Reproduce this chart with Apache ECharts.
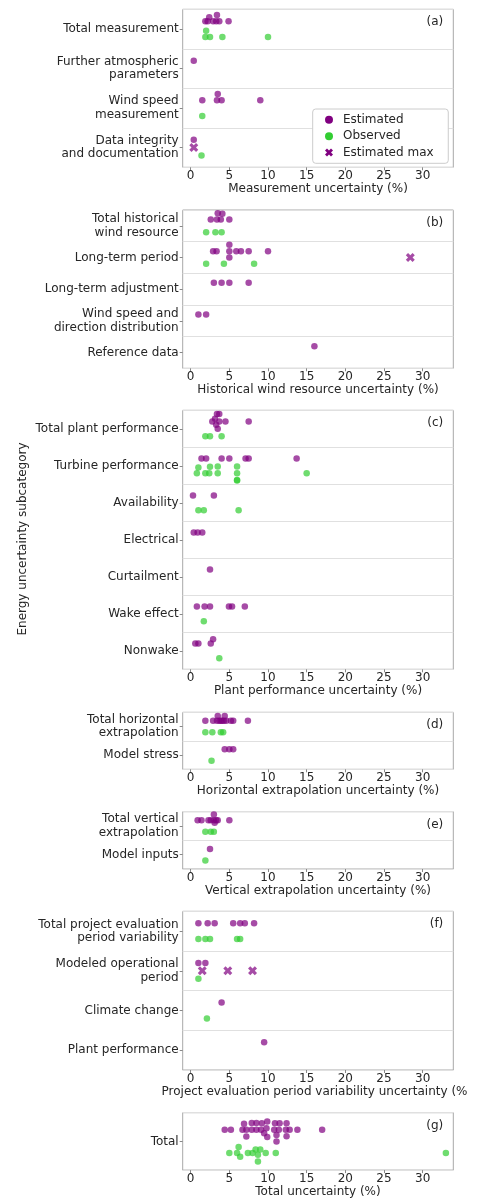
<!DOCTYPE html>
<html>
<head>
<meta charset="utf-8">
<script src="https://cdn.jsdelivr.net/npm/echarts@6/dist/echarts.min.js"></script>
<style>
  html, body { margin: 0; padding: 0; background: #ffffff; }
  #chart { width: 481px; height: 1199px; }
</style>
</head>
<body>
<div id="chart"></div>
<script>
// ---------------- data ----------------
const xTicks = [0, 5, 10, 15, 20, 25, 30];

// (a) measurement
const measCats = ['Total measurement', 'Further atmospheric\nparameters', 'Wind speed\nmeasurement', 'Data integrity\nand documentation'];
const measEstimated = [[1.9, 2.2, 2.4, 2.9, 3.3, 3.4, 3.7, 4.9], [0.4], [1.5, 3.4, 3.5, 4.0, 9.0], [0.4]];
const measObserved = [[1.9, 2.0, 2.5, 4.1, 10.0], [], [1.5], [1.4]];
const measEstMax = [[], [], [], [0.4]];

// (b) historical wind resource
const histCats = ['Total historical\nwind resource', 'Long-term period', 'Long-term adjustment', 'Wind speed and\ndirection distribution', 'Reference data'];
const histEstimated = [[2.6, 3.4, 3.5, 3.9, 4.1, 5.0], [2.9, 3.35, 5.0, 5.0, 5.0, 5.9, 6.5, 7.5, 10.0], [3.0, 4.0, 5.0, 7.5], [1.0, 2.0], [16.0]];
const histObserved = [[2.0, 3.2, 4.0], [2.0, 4.3, 8.2], [], [], []];
const histEstMax = [[], [28.4], [], [], []];

// (c) plant performance
const plantCats = ['Total plant performance', 'Turbine performance', 'Availability', 'Electrical', 'Curtailment', 'Wake effect', 'Nonwake'];
const plantEstimated = [
  [2.8, 3.15, 3.3, 3.4, 3.5, 3.7, 3.7, 4.5, 7.5],
  [1.4, 2.0, 4.0, 5.0, 7.1, 7.5, 13.7],
  [0.3, 3.0],
  [0.4, 0.9, 1.5],
  [2.5],
  [0.8, 1.8, 2.5, 4.95, 5.35, 7.0],
  [0.6, 1.0, 2.6, 2.9]
];
const plantObserved = [
  [1.9, 2.5, 4.0],
  [0.8, 1.0, 1.9, 2.4, 2.5, 3.5, 3.5, 6.0, 6.0, 6.0, 6.0, 15.0],
  [1.0, 1.7, 6.2],
  [],
  [],
  [1.7],
  [3.7]
];
const plantEstMax = [[], [], [], [], [], [], []];

// (d) horizontal extrapolation
const horizCats = ['Total horizontal\nextrapolation', 'Model stress'];
const horizEstimated = [[1.9, 2.9, 3.4, 3.5, 3.7, 3.9, 4.1, 4.3, 4.4, 4.6, 5.2, 5.5, 7.4], [4.4, 5.0, 5.5]];
const horizObserved = [[1.9, 2.8, 3.9, 4.2], [2.7]];
const horizEstMax = [[], []];

// (e) vertical extrapolation
const vertCats = ['Total vertical\nextrapolation', 'Model inputs'];
const vertEstimated = [[0.9, 1.4, 2.3, 2.6, 3.0, 3.0, 3.1, 3.3, 3.5, 5.0], [2.5]];
const vertObserved = [[1.9, 2.6, 3.0], [1.9]];
const vertEstMax = [[], []];

// (f) project evaluation period variability
const evalCats = ['Total project evaluation\nperiod variability', 'Modeled operational\nperiod', 'Climate change', 'Plant performance'];
const evalEstimated = [[1.0, 2.2, 3.1, 5.5, 6.4, 7.0, 8.2], [1.0, 1.9], [4.0], [9.5]];
const evalObserved = [[1.0, 1.9, 2.5, 6.0, 6.4], [1.0], [2.1], []];
const evalEstMax = [[], [1.5, 4.8, 8.0], [], []];

// (g) total
const totalCats = ['Total'];
const totalEstimated = [[4.4, 5.2, 6.7, 6.9, 7.2, 7.2, 7.9, 7.9, 8.5, 8.5, 9.1, 9.2, 9.5, 9.8, 9.9, 9.9,
  10.8, 10.9, 11.1, 11.1, 11.4, 11.5, 12.3, 12.4, 12.4, 12.8, 13.8, 17.0]];
const totalObserved = [[5.0, 6.0, 6.2, 6.4, 7.4, 8.0, 8.4, 8.7, 8.7, 9.0, 9.7, 11.0, 33.0]];
const totalEstMax = [[]];

// ---------------- layout & style ----------------
const PLOT_LEFT = 182.7;
const PLOT_WIDTH = 270.6;
const X_MIN = -1.03;
const X_MAX = 33.96;
const DOT = 6.5;          // drawn marker diameter (px)
const SWARM_D = 6.4;      // collision diameter used for the swarm layout (px)
const TEXT = '#262626';
const FONT = 'DejaVu Sans';
const EST_COLOR = '#800080';
const OBS_COLOR = '#32cd32';
const X_PATH = 'path://M1 0L2 1L3 0L4 1L3 2L4 3L3 4L2 3L1 4L0 3L1 2L0 1Z';

// swarmSpan: width (in data units) of the value range the swarm is packed over
const panels = [
  { tag: '(a)', cats: measCats, est: measEstimated, obs: measObserved, max: measEstMax, title: 'Measurement uncertainty (%)', top: 9.3, height: 158 },
  { tag: '(b)', cats: histCats, est: histEstimated, obs: histObserved, max: histEstMax, title: 'Historical wind resource uncertainty (%)', top: 210, height: 158.3 },
  { tag: '(c)', cats: plantCats, est: plantEstimated, obs: plantObserved, max: plantEstMax, title: 'Plant performance uncertainty (%)', top: 410.3, height: 259 },
  { tag: '(d)', cats: horizCats, est: horizEstimated, obs: horizObserved, max: horizEstMax, title: 'Horizontal extrapolation uncertainty (%)', top: 712.3, height: 57 },
  { tag: '(e)', cats: vertCats, est: vertEstimated, obs: vertObserved, max: vertEstMax, title: 'Vertical extrapolation uncertainty (%)', top: 811.7, height: 57.3 },
  { tag: '(f)', cats: evalCats, est: evalEstimated, obs: evalObserved, max: evalEstMax, title: 'Project evaluation period variability uncertainty (%)', top: 911.3, height: 158.7, clipTitle: 307.5, titleShift: -3.5 },
  { tag: '(g)', cats: totalCats, est: totalEstimated, obs: totalObserved, max: totalEstMax, title: 'Total uncertainty (%)', top: 1112.7, height: 58.3, swarmSpan: 20 }
];

// Beeswarm placement (sorted sweep, closest-to-centre candidate first).
// Returns vertical pixel offsets (negative = upwards) in the input order.
function swarmOffsets(values, sx, d, halfWidth) {
  const order = values.map((v, i) => i).sort((a, b) => values[a] - values[b]);
  const placed = [];
  order.forEach(i => {
    const y = values[i] * sx;
    const neighbors = [];
    for (let k = placed.length - 1; k >= 0; k--) {
      if (y - placed[k].y < d) neighbors.push(placed[k]); else break;
    }
    const cands = [0];
    let leftFirst = true;
    neighbors.forEach(n => {
      const dy = y - n.y;
      const dx = Math.sqrt(Math.max(d * d - dy * dy, 0)) * 1.05;
      const cl = n.x - dx, cr = n.x + dx;
      if (leftFirst) cands.push(cl, cr); else cands.push(cr, cl);
      leftFirst = !leftFirst;
    });
    const idx = cands.map((c, j) => j).sort((a, b) => (Math.abs(cands[a]) - Math.abs(cands[b])) || (a - b));
    let chosen = 0;
    for (const j of idx) {
      const c = cands[j];
      if (neighbors.every(n => (n.x - c) * (n.x - c) + (n.y - y) * (n.y - y) >= d * d - 1e-6)) { chosen = c; break; }
    }
    placed.push({ x: chosen, y: y, i: i });
  });
  const out = new Array(values.length);
  placed.forEach(p => { out[p.i] = Math.max(-halfWidth, Math.min(halfWidth, p.x)); });
  return out;
}

function buildItems(groups, band, dodge, sx) {
  const items = [];
  groups.forEach((vals, ci) => {
    if (!vals.length) return;
    const offs = swarmOffsets(vals, sx, SWARM_D, 0.2 * band);
    vals.forEach((v, k) => {
      items.push({ value: [v, ci], symbolOffset: [0, dodge + offs[k]] });
    });
  });
  return items;
}

const grid = [], xAxis = [], yAxis = [], series = [], graphic = [];

panels.forEach((p, i) => {
  const band = p.height / p.cats.length;
  const all = [].concat(...p.est, ...p.obs);
  const span = p.swarmSpan || 1.1 * (Math.max(...all) - Math.min(...all));
  const sx = PLOT_WIDTH / span;

  grid.push({
    left: PLOT_LEFT, top: p.top, width: PLOT_WIDTH, height: p.height,
    show: true, borderColor: '#a8a8a8', borderWidth: 1, backgroundColor: 'transparent'
  });

  const titleStyle = { fontSize: 12, fontFamily: FONT, color: TEXT };

  xAxis.push({
    gridIndex: i, type: 'value', min: X_MIN, max: X_MAX,
    axisLine: { show: false, onZero: false },
    axisTick: { show: true, inside: false, length: 3, customValues: xTicks, lineStyle: { color: '#888888' } },
    axisLabel: { customValues: xTicks, margin: 3, fontSize: 12, fontFamily: FONT, color: TEXT },
    splitLine: { show: false },
    name: p.clipTitle ? '' : p.title, nameLocation: 'middle', nameGap: 15,
    nameTextStyle: titleStyle
  });

  yAxis.push({
    gridIndex: i, type: 'category', data: p.cats, inverse: true,
    axisLine: { show: false, onZero: false },
    axisTick: { show: true, inside: false, alignWithLabel: true, length: 3, interval: 0, lineStyle: { color: '#888888' } },
    axisLabel: { interval: 0, margin: 4, fontSize: 12, fontFamily: FONT, color: TEXT, lineHeight: 13.5, align: 'right' },
    splitLine: { show: true, interval: 0, lineStyle: { color: '#e0e0e0', width: 1 } }
  });

  if (p.clipTitle) {
    // long axis title, cut at the right edge of the figure
    graphic.push({
      type: 'text', x: PLOT_LEFT + PLOT_WIDTH / 2 + (p.titleShift || 0), y: p.top + p.height + 21.5, silent: true,
      style: {
        text: p.title, width: p.clipTitle, overflow: 'truncate', ellipsis: '',
        align: 'center', verticalAlign: 'middle', fontSize: 12, fontFamily: FONT, fill: TEXT
      }
    });
  }

  series.push({
    type: 'scatter', name: 'Estimated', xAxisIndex: i, yAxisIndex: i,
    symbol: 'circle', symbolSize: DOT, silent: true, z: 3,
    itemStyle: { color: EST_COLOR, opacity: 0.7 },
    data: buildItems(p.est, band, -0.2 * band, sx)
  });
  series.push({
    type: 'scatter', name: 'Observed', xAxisIndex: i, yAxisIndex: i,
    symbol: 'circle', symbolSize: DOT, silent: true, z: 3,
    itemStyle: { color: OBS_COLOR, opacity: 0.7 },
    data: buildItems(p.obs, band, 0.2 * band, sx)
  });
  series.push({
    type: 'scatter', name: 'Estimated max', xAxisIndex: i, yAxisIndex: i,
    symbol: X_PATH, symbolSize: 9, silent: true, z: 3,
    itemStyle: { color: EST_COLOR, opacity: 0.7 },
    data: [].concat(...p.max.map((vals, ci) => vals.map(v => ({ value: [v, ci] }))))
  });

  graphic.push({
    type: 'text', x: PLOT_LEFT + PLOT_WIDTH - 10, y: p.top + 13, silent: true,
    style: { text: p.tag, align: 'right', verticalAlign: 'middle', fontSize: 12, fontFamily: FONT, fill: TEXT }
  });
});

graphic.push({
  type: 'text', x: 23, y: 539, rotation: Math.PI / 2, silent: true,
  style: { text: 'Energy uncertainty subcategory', align: 'center', verticalAlign: 'middle', fontSize: 12, fontFamily: FONT, fill: TEXT }
});

const option = {
  animation: false,
  backgroundColor: '#ffffff',
  textStyle: { fontFamily: FONT },
  grid, xAxis, yAxis, series, graphic,
  legend: {
    orient: 'vertical', left: 312.7, top: 109,
    itemWidth: 8, itemHeight: 8, itemGap: 2.3,
    padding: [3.85, 14.7, 3.85, 12.3],
    borderColor: '#cccccc', borderWidth: 1, borderRadius: 3, backgroundColor: '#ffffff',
    selectedMode: false,
    textStyle: { fontSize: 12, fontFamily: FONT, color: TEXT, lineHeight: 14, padding: [0, 0, 0, 5] },
    data: [
      { name: 'Estimated', icon: 'circle', itemStyle: { color: EST_COLOR, opacity: 1 } },
      { name: 'Observed', icon: 'circle', itemStyle: { color: OBS_COLOR, opacity: 1 } },
      { name: 'Estimated max', icon: X_PATH, itemStyle: { color: EST_COLOR, opacity: 1 } }
    ]
  }
};

const chart = echarts.init(document.getElementById('chart'), null, { renderer: 'canvas' });
chart.setOption(option);
</script>
</body>
</html>
